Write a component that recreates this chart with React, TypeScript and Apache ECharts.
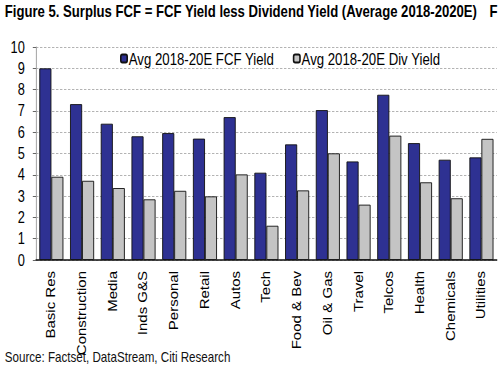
import React, { useEffect, useRef } from "react";
import * as echarts from "echarts";

const categories = [
  "Basic Res", "Construction", "Media", "Inds G&S", "Personal", "Retail", "Autos", "Tech",
  "Food & Bev", "Oil & Gas", "Travel", "Telcos", "Health", "Chemicals", "Utilities",
];
const fcfYield = [9.0, 7.32, 6.4, 5.81, 5.96, 5.7, 6.71, 4.1, 5.43, 7.04, 4.63, 7.76, 5.49, 4.71, 4.82];
const divYield = [3.91, 3.72, 3.38, 2.85, 3.25, 2.99, 4.02, 1.61, 3.27, 5.01, 2.6, 5.84, 3.65, 2.9, 5.69];
const seriesNames = ["Avg 2018-20E FCF Yield", "Avg 2018-20E Div Yield"];
const titleText = "Figure 5. Surplus FCF = FCF Yield less Dividend Yield (Average 2018-2020E)";
const sourceText = "Source: Factset, DataStream, Citi Research";

const SX = 0.8;
const VW = 500 / SX;
const FONT = "'Liberation Sans', Arial, sans-serif";

export default function App() {
  const ref = useRef<HTMLDivElement>(null);
  useEffect(() => {
    if (!ref.current) return;
    const chart = echarts.init(ref.current, undefined, { renderer: "svg" });
    const legendCommon = {
      top: 50, padding: 0,
      itemWidth: 8, itemHeight: 8, itemGap: 0,
      textStyle: { fontSize: 16.5, color: "#000", padding: [0, 0, 0, -3] },
    };
    chart.setOption({
      animation: false,
      backgroundColor: "#ffffff",
      textStyle: { fontFamily: FONT },
      graphic: [
        {
          type: "text", left: 6, top: 3,
          style: { text: titleText, font: `bold 16.4px ${FONT}`, fill: "#000" },
        },
        {
          type: "text", left: 612, top: 3,
          style: { text: "F", font: `bold 16.4px ${FONT}`, fill: "#000" },
        },
        {
          type: "text", left: 6, top: 350,
          style: { text: sourceText, font: `14.5px ${FONT}`, fill: "#111" },
        },
      ],
      legend: [
        { ...legendCommon, left: 150, data: [seriesNames[0]] },
        { ...legendCommon, left: 366, data: [seriesNames[1]] },
      ],
      grid: { left: 45, right: 4, top: 47, bottom: 120 },
      xAxis: {
        type: "category",
        data: categories,
        axisLine: { lineStyle: { color: "#111", width: 1.5 } },
        axisTick: { inside: true, length: 3, lineStyle: { color: "#111" } },
        axisLabel: { rotate: 90, fontSize: 15, color: "#000", margin: 11, interval: 0 },
      },
      yAxis: {
        type: "value", min: 0, max: 10, interval: 1,
        axisLine: { show: true, lineStyle: { color: "#999" } },
        axisTick: { show: true, length: 4, lineStyle: { color: "#555" } },
        axisLabel: { fontSize: 16, color: "#000", margin: 14 },
        splitLine: { lineStyle: { color: "#aaa", type: [3, 2] } },
      },
      series: [
        {
          name: seriesNames[0], type: "bar", data: fcfYield, barWidth: 15, barGap: "0%",
          itemStyle: { color: "#2E3192", borderColor: "#111", borderWidth: 1 },
        },
        {
          name: seriesNames[1], type: "bar", data: divYield, barWidth: 15,
          itemStyle: { color: "#C4C4C4", borderColor: "#111", borderWidth: 1 },
        },
      ],
    });
    return () => chart.dispose();
  }, []);
  return (
    <div
      ref={ref}
      style={{
        position: "fixed", left: 0, top: 0, width: VW, height: 380,
        transform: `scaleX(${SX})`, transformOrigin: "0 0",
      }}
    />
  );
}
